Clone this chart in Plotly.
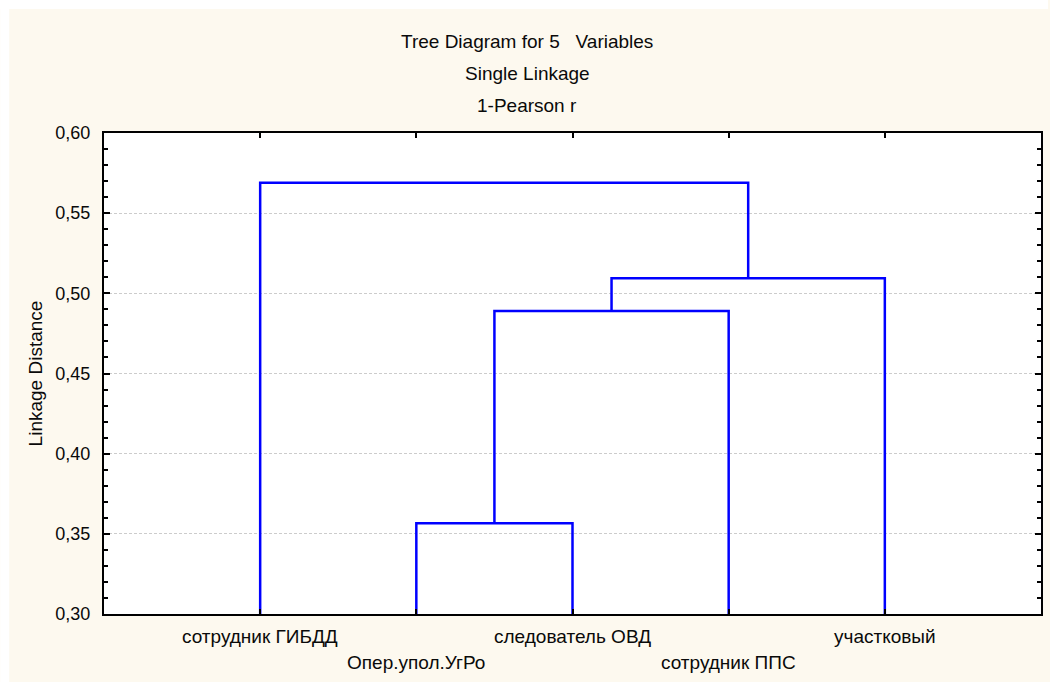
import plotly.graph_objects as go

# ---- data ----
leaves = ["сотрудник ГИБДД", "Опер.упол.УгРо", "следователь ОВД", "сотрудник ППС", "участковый"]
# merges: (left node, right node, linkage distance); nodes >= len(leaves) are clusters in merge order
merge_left = [1, 5, 6, 0]
merge_right = [2, 3, 4, 7]
merge_height = [0.3566, 0.489, 0.5094, 0.569]
title_lines = ["Tree Diagram for 5   Variables", "Single Linkage", "1-Pearson r"]
y_ticks = [0.30, 0.35, 0.40, 0.45, 0.50, 0.55, 0.60]

base = 0.30
W, H = 1050, 682
L, R, T, B = 104, 7, 133, 68
pw, ph = W - L - R, H - T - B

def px2paper_x(px):
    return (px - L) / pw

def px2paper_y(py):
    return (H - B - py) / ph

# node positions
node_x = {i: i + 1 for i in range(len(leaves))}
node_h = {i: base for i in range(len(leaves))}
xs, ys = [], []
for k, (a, b, h) in enumerate(zip(merge_left, merge_right, merge_height)):
    xa, xb = node_x[a], node_x[b]
    xs += [xa, xa, xb, xb, None]
    ys += [node_h[a], h, h, node_h[b], None]
    nid = len(leaves) + k
    node_x[nid] = (xa + xb) / 2
    node_h[nid] = h

cream = "#FDF9EF"
font = "Liberation Sans, Arial, sans-serif"
txt = "#0A0A0A"

fig = go.Figure()
fig.add_trace(go.Scatter(x=xs, y=ys, mode="lines",
                         line=dict(color="#0000FF", width=2.5),
                         hoverinfo="skip", showlegend=False, cliponaxis=False))

annotations = []
for i, t in enumerate(title_lines):
    annotations.append(dict(text=t, xref="paper", yref="paper",
                            x=px2paper_x(528), y=px2paper_y([41, 74, 106][i]),
                            xanchor="center", yanchor="middle", showarrow=False,
                            font=dict(family=font, size=19, color=txt)))
for i, name in enumerate(leaves):
    row_y = 636 if i % 2 == 0 else 662
    annotations.append(dict(text=name, xref="x", yref="paper",
                            x=i + 1, y=px2paper_y(row_y),
                            xanchor="center", yanchor="middle", showarrow=False,
                            font=dict(family=font, size=19, color=txt)))

shapes = [
    dict(type="rect", xref="paper", yref="paper", x0=px2paper_x(0), x1=px2paper_x(9),
         y0=px2paper_y(H), y1=px2paper_y(0), fillcolor="white", line=dict(width=0), layer="above"),
    dict(type="rect", xref="paper", yref="paper", x0=px2paper_x(0), x1=px2paper_x(W),
         y0=px2paper_y(9), y1=px2paper_y(0), fillcolor="white", line=dict(width=0), layer="above"),
]

fig.update_layout(
    width=W, height=H,
    margin=dict(l=L, r=R, t=T, b=B, pad=0),
    paper_bgcolor=cream, plot_bgcolor="white",
    separators=",.",
    font=dict(family=font, size=18, color=txt),
    annotations=annotations, shapes=shapes,
    xaxis=dict(range=[0, len(leaves) + 1], tickvals=list(range(1, len(leaves) + 1)),
               showticklabels=False, ticks="inside", ticklen=5, tickwidth=2, tickcolor="black",
               showline=True, linewidth=2, linecolor="black", mirror="ticks",
               showgrid=False, zeroline=False, fixedrange=True),
    yaxis=dict(range=[0.30, 0.60], tickvals=y_ticks, tickformat=".2f",
               ticks="inside", ticklen=6, tickwidth=2, tickcolor="black",
               showline=True, linewidth=2, linecolor="black", mirror="ticks",
               showgrid=True, gridcolor="#CCCCCC", griddash="3px,2px", gridwidth=1,
               zeroline=False, ticklabelstandoff=8,
               minor=dict(dtick=0.01, ticks="inside", ticklen=4, tickwidth=2,
                          tickcolor="black", showgrid=False),
               tickfont=dict(family=font, size=18, color=txt),
               title=dict(text="Linkage Distance", standoff=8,
                          font=dict(family=font, size=19, color=txt))),
)

fig.write_html("out.html")
